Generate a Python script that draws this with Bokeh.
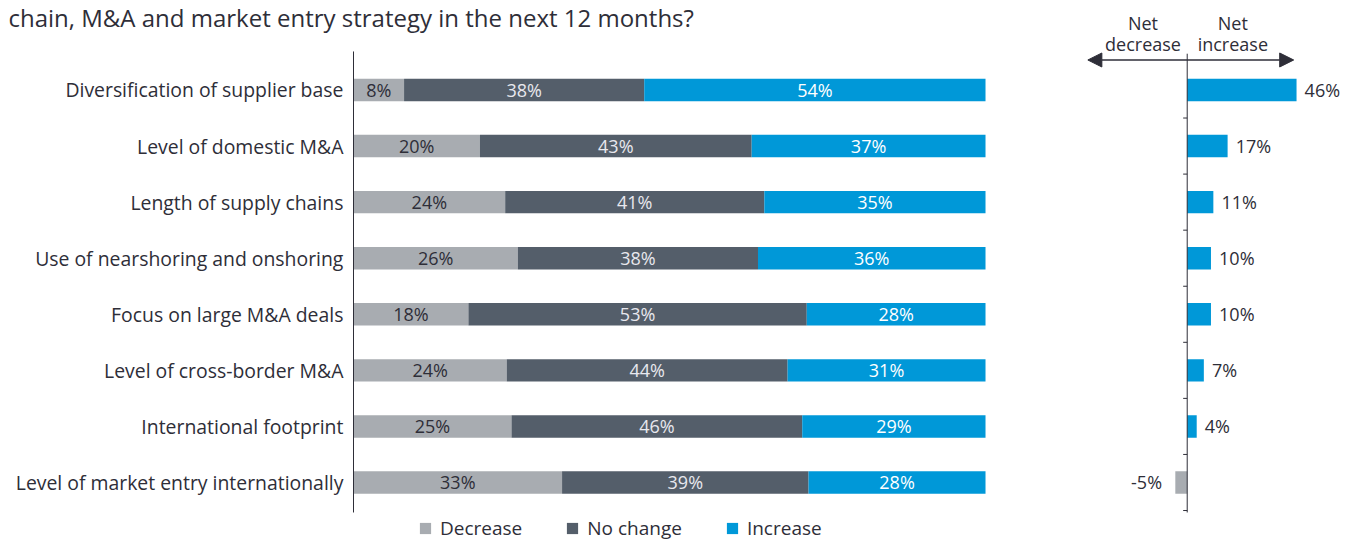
from bokeh.plotting import figure
from bokeh.models import (ColumnDataSource, Range1d, Legend, LegendItem,
                          Label, Arrow, NormalHead)
from bokeh.layouts import row
from bokeh.embed import file_html
from bokeh.resources import INLINE
from bokeh.core.properties import value

# ---------------- data ----------------
categories = [
    "Diversification of supplier base",
    "Level of domestic M&A",
    "Length of supply chains",
    "Use of nearshoring and onshoring",
    "Focus on large M&A deals",
    "Level of cross-border M&A",
    "International footprint",
    "Level of market entry internationally",
]
decrease = [8, 20, 24, 26, 18, 24, 25, 33]
no_change = [38, 43, 41, 38, 53, 44, 46, 39]
increase = [54, 37, 35, 36, 28, 31, 29, 28]
net_change = [46, 17, 11, 10, 10, 7, 4, -5]
series_names = ["Decrease", "No change", "Increase"]
title_text = "chain, M&A and market entry strategy in the next 12 months?"
net_head = ["Net", "Net"]
net_sub = ["decrease", "increase"]

# ---------------- styles ----------------
GRAY = "#a8acb1"
DARK = "#545e6a"
BLUE = "#0098d8"
TEXT = "#2e2e38"
FONT = "Open Sans"

n = len(categories)
ypos = list(range(n))
totals = [d + c + i for d, c, i in zip(decrease, no_change, increase)]
dec_r = [d * 100 / t for d, t in zip(decrease, totals)]
nc_r = [(d + c) * 100 / t for d, c, t in zip(decrease, no_change, totals)]
inc_r = [100.0] * n

src = ColumnDataSource(dict(
    y=ypos,
    cat=categories,
    d0=[0] * n, d1=dec_r,
    c0=dec_r, c1=nc_r,
    i0=nc_r, i1=inc_r,
    dm=[b / 2 for b in dec_r],
    cm=[(a + b) / 2 for a, b in zip(dec_r, nc_r)],
    im=[(a + b) / 2 for a, b in zip(nc_r, inc_r)],
    dl=[f"{v}%" for v in decrease],
    cl=[f"{v}%" for v in no_change],
    il=[f"{v}%" for v in increase],
))

BAR_H = 0.4
AX_TOP = -0.5 - 0.187      # axis line extent (row units)
AX_BOT = n - 0.5 + 0.035
Y_TOP = -1.596             # visible y range
Y_BOT = 8.0525
LBL_SHIFT = -0.125         # label baseline correction

# ---------------- left: stacked bars ----------------
p = figure(width=1040, height=541, x_range=Range1d(start=-55.854, end=108.70),
           y_range=Range1d(start=Y_BOT, end=Y_TOP), output_backend="svg", toolbar_location=None,
           x_axis_location=None, y_axis_location=None,
           min_border_left=0, min_border_right=0, min_border_top=0, min_border_bottom=0,
           outline_line_color=None, border_fill_color="white")
p.xgrid.visible = False
p.ygrid.visible = False

r1 = p.hbar(y="y", left="d0", right="d1", height=BAR_H, fill_color=GRAY, line_color=None, source=src)
r2 = p.hbar(y="y", left="c0", right="c1", height=BAR_H, fill_color=DARK, line_color=None, source=src)
r3 = p.hbar(y="y", left="i0", right="i1", height=BAR_H, fill_color=BLUE, line_color=None, source=src)

for xcol, lcol, col in [("dm", "dl", TEXT), ("cm", "cl", "#e8e8ee"), ("im", "il", "#ffffff")]:
    p.text(x=xcol, y="y", text=lcol, source=src, text_align="center", text_baseline="middle",
           text_font=value(FONT), text_font_size="18px", text_color=col)

# category axis: line + labels
p.segment(x0=[0], y0=[AX_TOP], x1=[0], y1=[AX_BOT], line_color=TEXT, line_width=1)
p.text(x=-1.6, y="y", text="cat", source=src, text_align="right", text_baseline="middle",
       text_font=value(FONT), text_font_size="19.4px", text_color=TEXT)

legend = Legend(items=[LegendItem(label=nm, renderers=[r]) for nm, r in zip(series_names, [r1, r2, r3])],
                orientation="horizontal", location=(418, 0), padding=0, margin=0, spacing=43,
                glyph_width=14, glyph_height=14, label_standoff=8,
                label_text_font=FONT, label_text_font_size="19px", label_text_color=TEXT,
                border_line_color=None, background_fill_alpha=0)
p.add_layout(legend)

p.add_layout(Label(x=-54.59, y=-1.29, text=title_text, text_font=FONT, text_font_size="24px",
                   text_color=TEXT, text_baseline="alphabetic", text_align="left"))

# ---------------- right: net change ----------------
q = figure(width=309, height=541, x_range=Range1d(start=-61.72, end=68.28),
           y_range=Range1d(start=Y_BOT, end=Y_TOP), output_backend="svg", toolbar_location=None,
           x_axis_location=None, y_axis_location=None,
           min_border_left=0, min_border_right=0, min_border_top=0, min_border_bottom=0,
           outline_line_color=None, border_fill_color="white")
q.xgrid.visible = False
q.ygrid.visible = False

net_src = ColumnDataSource(dict(
    y=ypos, zero=[0] * n, net=net_change,
    color=[BLUE if v >= 0 else GRAY for v in net_change],
    lx=[v + 3.4 if v >= 0 else v - 5.6 for v in net_change],
    align=["left" if v >= 0 else "right" for v in net_change],
    lab=[f"{v}%" for v in net_change],
))
q.hbar(y="y", left="zero", right="net", height=BAR_H, fill_color="color", line_color=None, source=net_src)
q.text(x="lx", y="y", text="lab", text_align="align", text_baseline="middle", source=net_src,
       text_font=value(FONT), text_font_size="18px", text_color=TEXT)

# zero line and small row ticks
q.segment(x0=[0], y0=[AX_TOP + 0.04], x1=[0], y1=[AX_BOT], line_color=TEXT, line_width=1)
bounds = [i + 0.5 for i in ypos]
q.segment(x0=[-1.7] * n, y0=bounds, x1=[0] * n, y1=bounds, line_color=TEXT, line_width=1)

q.add_layout(Arrow(start=NormalHead(size=14, fill_color=TEXT, line_color=TEXT),
                   end=NormalHead(size=14, fill_color=TEXT, line_color=TEXT),
                   x_start=-41.8, y_start=-0.535, x_end=44.8, y_end=-0.535,
                   line_color=TEXT, line_width=1.3))
for xc, h, s in zip([-18.6, 19.2], net_head, net_sub):
    q.add_layout(Label(x=xc, y=-1.061 + LBL_SHIFT, text=h, text_align="center", text_baseline="alphabetic",
                       text_font=FONT, text_font_size="18px", text_color=TEXT))
    q.add_layout(Label(x=xc, y=-0.704 + LBL_SHIFT, text=s, text_align="center", text_baseline="alphabetic",
                       text_font=FONT, text_font_size="18px", text_color=TEXT))

layout = row(p, q, spacing=0)
open("out.html", "w").write(file_html(layout, INLINE))
